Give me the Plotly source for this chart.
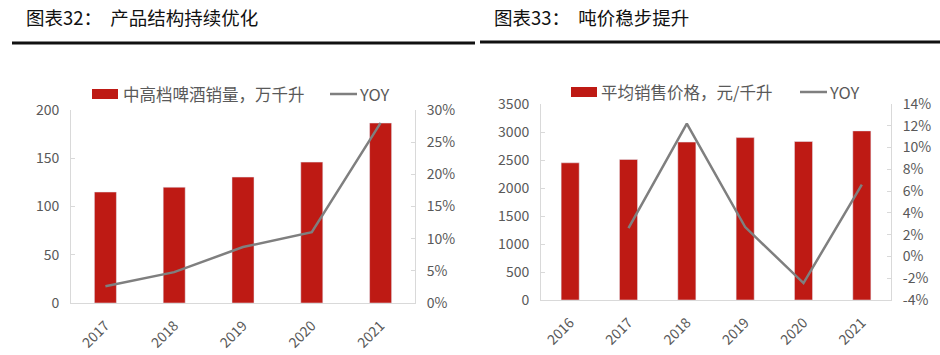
import plotly.graph_objects as go

# ---- data ----
years_l = ["2017", "2018", "2019", "2020", "2021"]
volume_l = [115, 120, 130.5, 146, 186.5]
yoy_l = [2.6, 4.8, 8.7, 11.0, 28.0]

years_r = ["2016", "2017", "2018", "2019", "2020", "2021"]
price_r = [2450, 2510, 2820, 2900, 2830, 3020]
yoy_r = [None, 2.6, 12.2, 2.7, -2.45, 6.6]

yoy_r_tickvals = [-4, -2, 0, 2, 4, 6, 8, 10, 12, 14]
yoy_r_ticktext = ["-4%", "-2%", "0%", "2%", "4%", "6%", "8%", "10%", "12%", "14%"]

title_l = "图表32：  产品结构持续优化"
title_r = "图表33：  吨价稳步提升"
legend_bar_l = "中高档啤酒销量，万千升"
legend_bar_r = "平均销售价格，元/千升"
legend_line = "YOY"

RED = "#BE1A14"
GREY_LINE = "#7F7F7F"
AXIS = "#D9D9D9"
TXT = "#595959"
FONT = "Noto Sans CJK SC"
W, H = 940, 355

fig = go.Figure()
fig.add_trace(go.Bar(x=years_l, y=volume_l, marker_color=RED, width=0.32,
                     xaxis="x", yaxis="y", name=legend_bar_l, showlegend=False))
fig.add_trace(go.Scatter(x=years_l, y=yoy_l, mode="lines", line=dict(color=GREY_LINE, width=2.5),
                         xaxis="x", yaxis="y2", name=legend_line, showlegend=False))
fig.add_trace(go.Bar(x=years_r, y=price_r, marker_color=RED, width=0.31,
                     xaxis="x2", yaxis="y3", name=legend_bar_r, showlegend=False))
fig.add_trace(go.Scatter(x=years_r, y=yoy_r, mode="lines", line=dict(color=GREY_LINE, width=2.5),
                         xaxis="x2", yaxis="y4", name=legend_line, showlegend=False, connectgaps=False))

def px_x(p):
    return p / W

def px_y(p):
    return 1 - p / H

tickfont = dict(family=FONT, size=14, color=TXT)
common_y = dict(showgrid=False, zeroline=False, showline=True, linecolor=AXIS, linewidth=1,
                ticks="inside", ticklen=4, tickcolor=AXIS, tickfont=tickfont,
                automargin=False, ticklabelstandoff=8)
common_x = dict(showgrid=False, zeroline=False, showline=True, linecolor=AXIS, linewidth=1,
                ticks="", tickangle=-45, tickfont=tickfont, type="category",
                automargin=False, ticklabelstandoff=8)

fig.update_layout(
    width=W, height=H, margin=dict(l=0, r=0, t=0, b=0, autoexpand=False),
    paper_bgcolor="white", plot_bgcolor="white", showlegend=False,
    xaxis=dict(domain=[px_x(71), px_x(415)], anchor="y", **common_x),
    yaxis=dict(domain=[px_y(303), px_y(110)], anchor="x", range=[0, 200], dtick=50, **common_y),
    yaxis2=dict(overlaying="y", anchor="x", side="right", range=[0, 30], dtick=5,
                ticksuffix="%", **common_y),
    xaxis2=dict(domain=[px_x(541), px_x(891)], anchor="y3", **common_x),
    yaxis3=dict(domain=[px_y(300), px_y(104)], anchor="x2", range=[0, 3500], dtick=500, **common_y),
    yaxis4=dict(overlaying="y3", anchor="x2", side="right", range=[-4, 14],
                tickmode="array", tickvals=yoy_r_tickvals, ticktext=yoy_r_ticktext, **common_y),
)

shapes = []
annotations = []

# title rules
shapes.append(dict(type="line", xref="paper", yref="paper", x0=px_x(12), x1=px_x(475),
                   y0=px_y(43), y1=px_y(43), line=dict(color="#111111", width=3)))
shapes.append(dict(type="line", xref="paper", yref="paper", x0=px_x(480), x1=px_x(940),
                   y0=px_y(42), y1=px_y(42), line=dict(color="#111111", width=3)))
titlefont = dict(family=FONT, size=18.5, color="#111111")
annotations.append(dict(text=title_l, xref="paper", yref="paper", x=px_x(24), y=px_y(17),
                        xanchor="left", yanchor="middle", showarrow=False, font=titlefont))
annotations.append(dict(text=title_r, xref="paper", yref="paper", x=px_x(492), y=px_y(17),
                        xanchor="left", yanchor="middle", showarrow=False, font=titlefont))

legfont = dict(family=FONT, size=16.5, color=TXT)
# left legend
shapes.append(dict(type="rect", xref="paper", yref="paper", x0=px_x(92), x1=px_x(118),
                   y0=px_y(99), y1=px_y(89), fillcolor=RED, line=dict(width=0)))
annotations.append(dict(text=legend_bar_l, xref="paper", yref="paper", x=px_x(121), y=px_y(94),
                        xanchor="left", yanchor="middle", showarrow=False, font=legfont))
shapes.append(dict(type="line", xref="paper", yref="paper", x0=px_x(330), x1=px_x(357),
                   y0=px_y(94), y1=px_y(94), line=dict(color=GREY_LINE, width=2.5)))
annotations.append(dict(text=legend_line, xref="paper", yref="paper", x=px_x(357), y=px_y(94),
                        xanchor="left", yanchor="middle", showarrow=False, font=legfont))
# right legend
shapes.append(dict(type="rect", xref="paper", yref="paper", x0=px_x(571), x1=px_x(597),
                   y0=px_y(97), y1=px_y(87), fillcolor=RED, line=dict(width=0)))
annotations.append(dict(text=legend_bar_r, xref="paper", yref="paper", x=px_x(599), y=px_y(92),
                        xanchor="left", yanchor="middle", showarrow=False, font=legfont))
shapes.append(dict(type="line", xref="paper", yref="paper", x0=px_x(800), x1=px_x(827),
                   y0=px_y(92), y1=px_y(92), line=dict(color=GREY_LINE, width=2.5)))
annotations.append(dict(text=legend_line, xref="paper", yref="paper", x=px_x(827), y=px_y(92),
                        xanchor="left", yanchor="middle", showarrow=False, font=legfont))

fig.update_layout(shapes=shapes, annotations=annotations)
fig.write_html("out.html", config=dict(displayModeBar=False, staticPlot=True),
               post_script="document.body.style.margin='0px';document.body.style.overflow='hidden';")
